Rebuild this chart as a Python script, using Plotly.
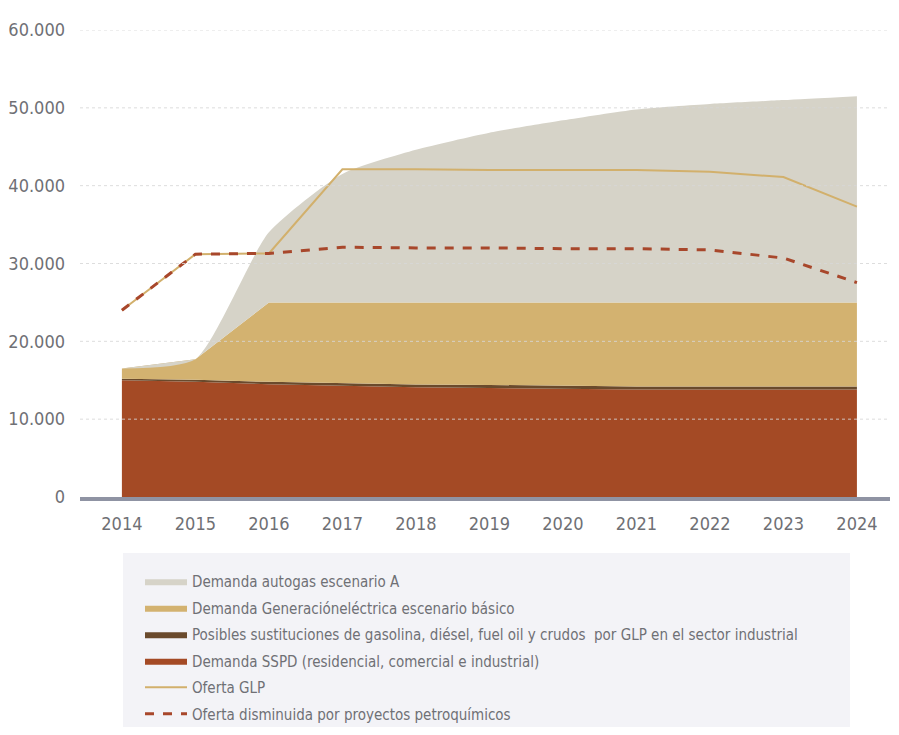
import plotly.graph_objects as go

years = [2014, 2015, 2016, 2017, 2018, 2019, 2020, 2021, 2022, 2023, 2024]

# stacked layers (increments)
demanda_sspd = [15000, 14800, 14500, 14300, 14100, 14000, 13900, 13800, 13800, 13800, 13800]
sustituciones = [200, 250, 300, 350, 350, 400, 400, 400, 400, 400, 400]
generacion = [1300, 2650, 10200, 10350, 10550, 10600, 10700, 10800, 10800, 10800, 10800]
autogas = [0, 0, 9000, 16500, 19600, 21800, 23400, 24800, 25500, 26000, 26500]

# lines
oferta_glp = [24000, 31200, 31300, 42100, 42100, 42000, 42000, 42000, 41800, 41100, 37300]
oferta_disminuida = [24000, 31200, 31300, 32100, 32000, 32000, 31900, 31900, 31750, 30700, 27550]

y_ticks = [0, 10000, 20000, 30000, 40000, 50000, 60000]

names = [
    "Demanda autogas escenario A",
    "Demanda Generacióneléctrica escenario básico",
    "Posibles sustituciones de gasolina, diésel, fuel oil y crudos  por GLP en el sector industrial",
    "Demanda SSPD (residencial, comercial e industrial)",
    "Oferta GLP",
    "Oferta disminuida por proyectos petroquímicos",
]

FONT = "DejaVu Sans Condensed, Liberation Sans Narrow, sans-serif"

# page has an 8px body margin; figure is sized to fit inside the 899x735 window
OFF = 8
W, H = 883, 719
L, R, T, B = 72, 1, 22, 230
PW, PH = W - L - R, H - T - B


def px(xpage):
    return (xpage - OFF - L) / PW


def py(ypage):
    return (H - B - (ypage - OFF)) / PH


fig = go.Figure()
fig.add_trace(go.Scatter(x=years, y=demanda_sspd, name=names[3], stackgroup="d",
                         mode="lines", line=dict(width=0, color="#A44A25"),
                         fillcolor="#A44A25", legendrank=4, legendgroup="g4"))
fig.add_trace(go.Scatter(x=years, y=sustituciones, name=names[2], stackgroup="d",
                         mode="lines", line=dict(width=0, color="#6A4A2C"),
                         fillcolor="#6A4A2C", legendrank=3, legendgroup="g3"))
fig.add_trace(go.Scatter(x=years, y=generacion, name=names[1], stackgroup="d",
                         mode="lines", line=dict(width=0, color="#D3B270"),
                         fillcolor="#D3B270", legendrank=2, legendgroup="g2"))
fig.add_trace(go.Scatter(x=years, y=autogas, name=names[0], stackgroup="d",
                         mode="lines", line=dict(width=0, color="#D6D3C8", shape="spline", smoothing=0.6),
                         fillcolor="#D6D3C8", legendrank=1, legendgroup="g1"))
fig.add_trace(go.Scatter(x=years, y=oferta_glp, name=names[4], mode="lines",
                         line=dict(width=2, color="#D2B06C"), legendrank=5, legendgroup="g5"))
fig.add_trace(go.Scatter(x=years, y=oferta_disminuida, name=names[5], mode="lines",
                         line=dict(width=3, color="#A8472B", dash="dash"), legendrank=6,
                         legendgroup="g6"))

# legend background panel
fig.add_shape(type="rect", xref="paper", yref="paper",
              x0=px(123), x1=px(850), y0=py(727), y1=py(553),
              fillcolor="#F3F3F7", line=dict(width=0), layer="below")

# dotted gridlines drawn over the areas
for v in y_ticks[1:]:
    fig.add_shape(type="line", xref="paper", yref="y", x0=0, x1=1, y0=v, y1=v,
                  line=dict(color="rgba(215,215,215,0.85)", width=1, dash="dot"),
                  layer="above")

fig.update_layout(
    width=W, height=H,
    margin=dict(l=L, r=R, t=T, b=B, autoexpand=False),
    paper_bgcolor="white", plot_bgcolor="white",
    separators=",.",
    font=dict(family=FONT, color="#6F7075"),
    showlegend=True,
    legend=dict(
        xref="container", yref="container",
        x=(140 - OFF) / W, y=1 - (565 - OFF) / H, xanchor="left", yanchor="top",
        bgcolor="rgba(0,0,0,0)", font=dict(size=15, color="#6F7075", family=FONT),
        traceorder="grouped", tracegroupgap=4, itemwidth=42,
    ),
    xaxis=dict(
        range=[2013.43, 2024.45], tickmode="array", tickvals=years,
        ticktext=[str(y) for y in years], showgrid=False, zeroline=False,
        showline=True, linecolor="#8F93A3", linewidth=4,
        tickfont=dict(size=18, color="#6F7075", family=FONT),
        ticks="", ticklabelstandoff=7,
    ),
    yaxis=dict(
        range=[0, 60000], tickmode="array", tickvals=y_ticks, tickformat=",d",
        showgrid=False, zeroline=False, showline=False,
        tickfont=dict(size=18, color="#6F7075", family=FONT),
        ticks="", ticklabelstandoff=14,
    ),
)

fig.write_html("out.html")
